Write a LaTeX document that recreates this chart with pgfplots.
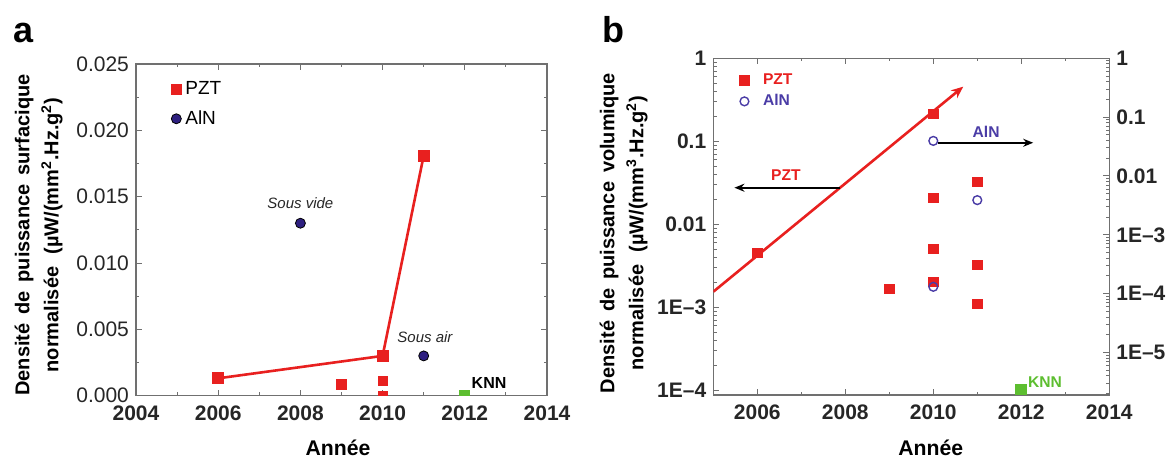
\documentclass[border=0pt]{standalone}
\usepackage{pgfplots}
\pgfplotsset{compat=1.18}
\usepackage{fontspec}
\setmainfont{Liberation Sans}
\usetikzlibrary{arrows.meta}

\definecolor{pzt}{HTML}{E8201F}
\definecolor{alnfill}{HTML}{2E1F80}
\definecolor{alnb}{HTML}{4A3CA6}
\definecolor{knn}{HTML}{5DBE30}
\definecolor{axgray}{HTML}{707070}
\definecolor{txt}{HTML}{262626}

\pgfplotsset{
  panel/.style={
    scale only axis,
    axis line style={axgray, line width=0.6pt},
    every tick/.style={axgray, line width=0.5pt},
    major tick length=3pt, minor tick length=1.6pt,
    tick align=inside,
    clip marker paths=true,
    scaled ticks=false,
    tick label style={font=\fontsize{10.5}{12}\selectfont, text=txt},
    xticklabel shift=1.5pt,
  },
  mklegend/.style={
    legend cell align=left,
    legend image code/.code={\draw[##1] plot coordinates {(0.12cm,0cm)};},
  },
}

\begin{document}
\begin{tikzpicture}

% ---------- panel a ----------
\begin{axis}[panel, mklegend,
  at={(68pt,31.65pt)}, anchor=south west, width=205.5pt, height=165.85pt,
  xmin=2004, xmax=2014, ymin=0, ymax=0.025,
  xtick={2004,2006,2008,2010,2012,2014},
  xticklabels={2004,2006,2008,2010,2012,2014},
  minor xtick={2005,2007,2009,2011,2013},
  ytick={0,0.005,0.01,0.015,0.02,0.025},
  yticklabels={0.000,0.005,0.010,0.015,0.020,0.025},
  minor ytick={0.0025,0.0075,0.0125,0.0175,0.0225},
  xtick pos=both, ytick pos=both,
  x tick label style={font=\bfseries\fontsize{10.5}{12}\selectfont},
  legend style={draw=none, fill=none, at={(0.085,0.955)}, anchor=north west,
    font=\fontsize{9.5}{11}\selectfont, row sep=4.5pt, inner sep=0pt,
    nodes={inner sep=1pt}},
]
\addlegendimage{only marks, mark=square*, mark size=2.3pt, pzt}
\addlegendentry{\hspace{1pt}PZT}
\addlegendimage{only marks, mark=*, mark size=2.5pt, draw=black, fill=alnfill}
\addlegendentry{\hspace{1pt}AlN}

\addplot[pzt, line width=1.3pt, mark=square*, mark size=2.35pt, forget plot]
  coordinates {(2006,0.00131) (2010,0.0030) (2011,0.0181)};
\addplot[only marks, mark=square*, mark size=2.35pt, pzt, forget plot]
  coordinates {(2009,0.00086) (2010,0.0011) (2010,0.0) (2012,-0.0004)};
\addplot[only marks, mark=*, mark size=2.5pt, draw=black, fill=alnfill, forget plot]
  coordinates {(2008,0.0130) (2011,0.0030)};
\addplot[only marks, mark=square*, mark size=2.5pt, knn, forget plot]
  coordinates {(2012,0.00002)};

\node[font=\itshape\fontsize{7.5}{9}\selectfont, text=txt] at (axis cs:2008.0,0.01452) {Sous vide};
\node[font=\itshape\fontsize{7.5}{9}\selectfont, text=txt] at (axis cs:2011.03,0.00442) {Sous air};
\node[font=\bfseries\fontsize{8}{9}\selectfont] at (axis cs:2012.59,0.00093) {KNN};
\end{axis}

% ---------- panel b, left axis (PZT) ----------
\begin{axis}[panel,
  at={(356.65pt,32pt)}, anchor=south west, width=198pt, height=168.35pt,
  xmin=2005, xmax=2014, ymode=log, ymin=8.78e-5, ymax=1,
  xtick={2006,2008,2010,2012,2014},
  xticklabels={2006,2008,2010,2012,2014},
  minor xtick={2005,2007,2009,2011,2013},
  ytick={1e-4,1e-3,0.01,0.1,1},
  yticklabels={1E–4,1E–3,0.01,0.1,1},
  minor ytick={9e-5,
    2e-4,3e-4,4e-4,5e-4,6e-4,7e-4,8e-4,9e-4,
    2e-3,3e-3,4e-3,5e-3,6e-3,7e-3,8e-3,9e-3,
    0.02,0.03,0.04,0.05,0.06,0.07,0.08,0.09,
    0.2,0.3,0.4,0.5,0.6,0.7,0.8,0.9},
  xtick pos=both, ytick pos=left,
  tick label style={font=\bfseries\fontsize{10.5}{12}\selectfont, text=txt},
]
\addplot[pzt, line width=1.3pt, -{Stealth[length=6pt, width=5pt]}]
  coordinates {(2005,1.54e-3) (2010.68,0.455)};
\addplot[only marks, mark=square*, mark size=2.3pt, pzt]
  coordinates {(2006,0.00448) (2009,0.00167) (2010,0.213) (2010,0.0206)
               (2010,0.00508) (2010,0.00204) (2011,0.0326) (2011,0.00323)
               (2011,0.00109)};
\addplot[only marks, mark=square*, mark size=2.3pt, pzt]
  coordinates {(2012,8.2e-5)};
\addplot[only marks, mark=square*, mark size=2.75pt, knn]
  coordinates {(2012,1.0e-4)};
\addplot[black, line width=1.2pt, -{Stealth[length=5pt, width=4pt]}]
  coordinates {(2007.88,0.0276) (2005.48,0.0276)};
\addplot[black, line width=1.2pt, -{Stealth[length=5pt, width=4pt]}]
  coordinates {(2010.1,0.096) (2012.27,0.096)};

\node[font=\bfseries\fontsize{7.8}{9}\selectfont, text=pzt] at (axis cs:2006.65,0.0393) {PZT};
\node[font=\bfseries\fontsize{7.8}{9}\selectfont, text=alnb] at (axis cs:2011.2,0.13) {AlN};
\node[font=\bfseries\fontsize{7.8}{9}\selectfont, text=knn] at (axis cs:2012.54,1.27e-4) {KNN};
\end{axis}

% ---------- panel b, right axis (AlN) ----------
\begin{axis}[panel, mklegend,
  at={(356.65pt,32pt)}, anchor=south west, width=198pt, height=168.35pt,
  xmin=2005, xmax=2014, ymode=log, ymin=1.9e-6, ymax=1,
  axis x line=none, axis y line*=right,
  ytick={1e-5,1e-4,1e-3,0.01,0.1,1},
  yticklabels={1E–5,1E–4,1E–3,0.01,0.1,1},
  minor ytick={2e-6,3e-6,4e-6,5e-6,6e-6,7e-6,8e-6,9e-6,
    2e-5,3e-5,4e-5,5e-5,6e-5,7e-5,8e-5,9e-5,
    2e-4,3e-4,4e-4,5e-4,6e-4,7e-4,8e-4,9e-4,
    2e-3,3e-3,4e-3,5e-3,6e-3,7e-3,8e-3,9e-3,
    0.02,0.03,0.04,0.05,0.06,0.07,0.08,0.09,
    0.2,0.3,0.4,0.5,0.6,0.7,0.8,0.9},
  tick label style={font=\bfseries\fontsize{10.5}{12}\selectfont, text=txt},
  legend style={draw=none, fill=none, at={(0.066,0.962)}, anchor=north west,
    font=\bfseries\fontsize{7.8}{9}\selectfont, row sep=1.5pt, inner sep=0pt,
    nodes={inner sep=1pt}},
]
\addlegendimage{only marks, mark=square*, mark size=2.3pt, pzt}
\addlegendentry{\hspace{6pt}\textcolor{pzt}{PZT}}
\addlegendimage{only marks, mark=o, mark size=2.2pt, alnb, line width=0.7pt}
\addlegendentry{\hspace{6pt}\textcolor{alnb}{AlN}}

\addplot[only marks, mark=o, mark size=2.2pt, alnb, line width=0.7pt, forget plot]
  coordinates {(2010,0.0395) (2010,1.31e-4) (2011,3.89e-3)};
\end{axis}

% ---------- labels ----------
\node[anchor=base west, inner sep=0pt, font=\bfseries\fontsize{18}{20}\selectfont] at (6.5pt,208pt) {a};
\node[anchor=base west, inner sep=0pt, font=\bfseries\fontsize{18}{20}\selectfont] at (301pt,208pt) {b};

\node[rotate=90, inner sep=0pt, font=\bfseries\fontsize{10}{12}\selectfont] at (12pt,112pt)
  {Densité\, de\, puissance\, surfacique};
\node[rotate=90, inner sep=0pt, font=\bfseries\fontsize{10}{12}\selectfont] at (26pt,112pt)
  {normalisée\, \,(µW/(mm\textsuperscript{2}.Hz.g\textsuperscript{2})};
\node[rotate=90, inner sep=0pt, font=\bfseries\fontsize{10}{12}\selectfont] at (304.5pt,113pt)
  {Densité\, de\, puissance\, volumique};
\node[rotate=90, inner sep=0pt, font=\bfseries\fontsize{10}{12}\selectfont] at (318.5pt,113pt)
  {normalisée\, \,(µW/(mm\textsuperscript{3}.Hz.g\textsuperscript{2})};

\node[anchor=base, inner sep=0pt, font=\bfseries\fontsize{10.6}{12}\selectfont] at (169pt,1.5pt) {Année};
\node[anchor=base, inner sep=0pt, font=\bfseries\fontsize{10.6}{12}\selectfont] at (465.4pt,1.5pt) {Année};

\pgfresetboundingbox
\useasboundingbox (0,0) rectangle (585.5pt,229.5pt);
\end{tikzpicture}
\end{document}
